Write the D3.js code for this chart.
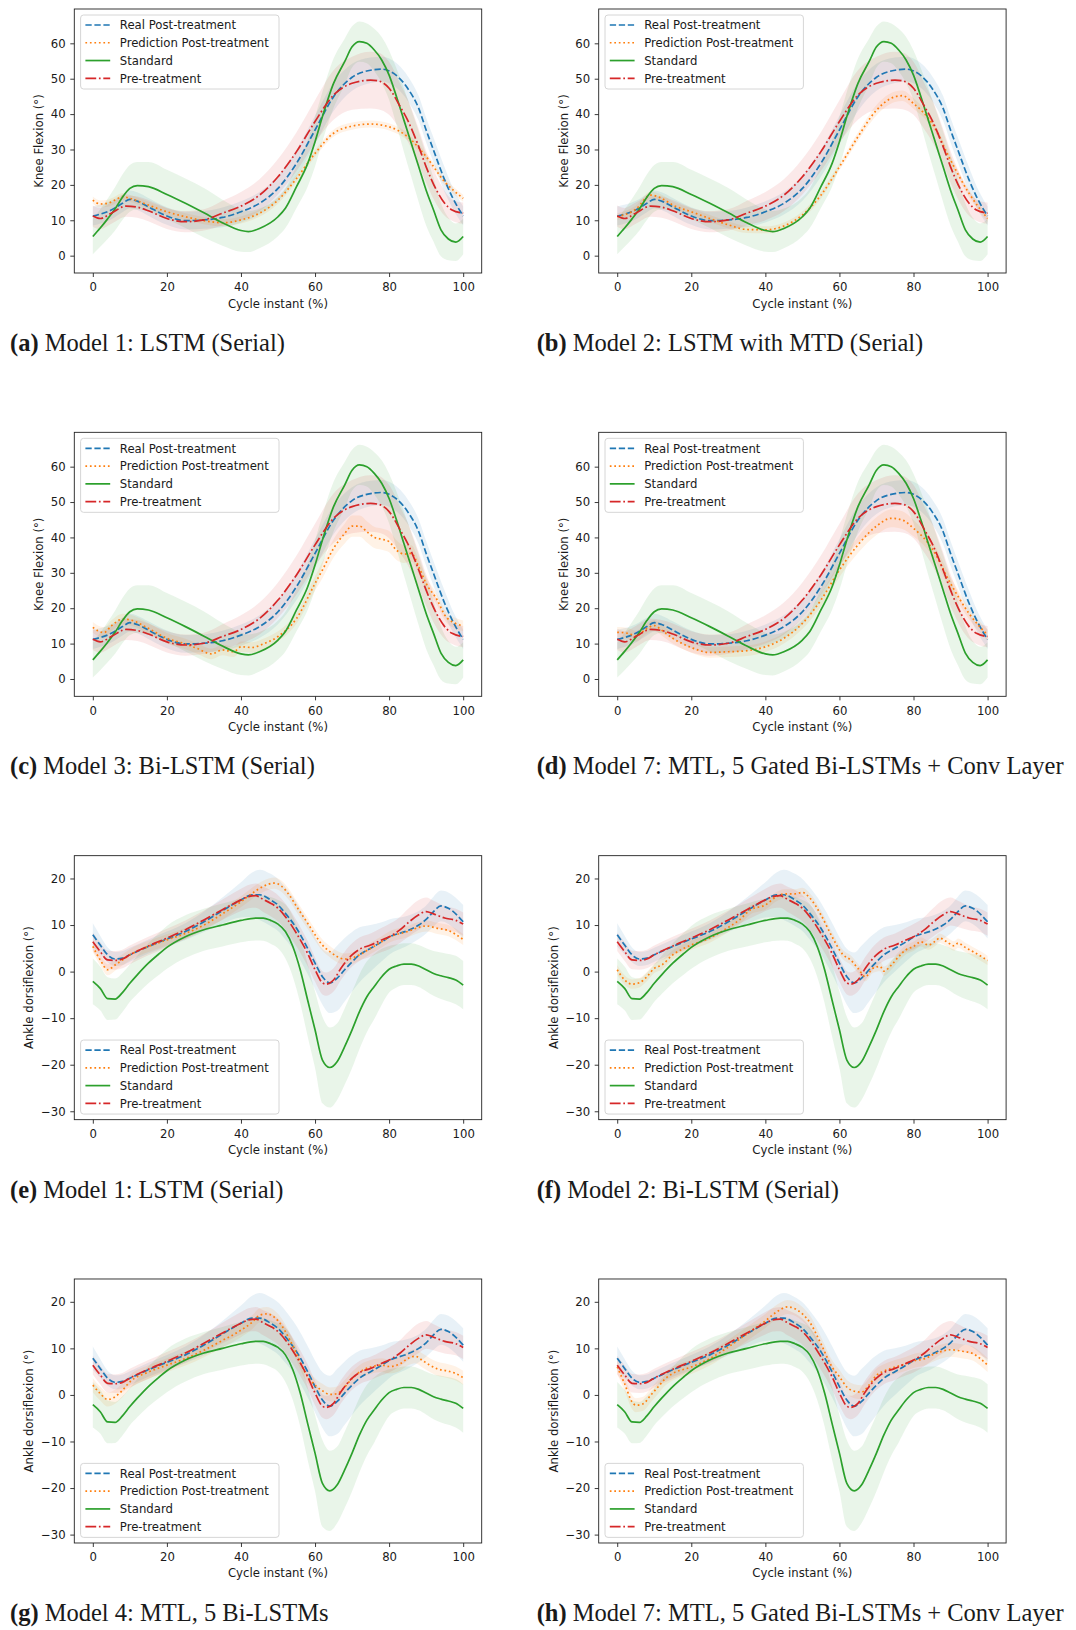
<!DOCTYPE html>
<html>
<head>
<meta charset="utf-8">
<script src="https://cdn.jsdelivr.net/npm/d3@7"></script>
<style>
body { margin: 0; background: #fff; }
text { font-family: "DejaVu Sans", sans-serif; fill: #1a1a1a; }
.cap { font-family: "Liberation Serif", "DejaVu Serif", serif; }
</style>
</head>
<body>
<div id="fig"></div>
<script>
// each row: [cycle %, mean, sd]
var kneeReal = [[0,11.2,2.7],[5,12.9,2.6],[8,14.8,2.5],[10,15.9,2.5],[12,15.4,2.5],[15,13.8,2.5],[20,11.2,2.5],[25,9.9,2.5],[30,10.1,2.5],[35,10.8,2.8],[40,12.4,3],[45,14.8,3.2],[50,19,3.5],[55,26.1,3.8],[60,35.5,4],[65,44.9,4],[70,50.4,3.8],[75,52.4,3.6],[78,52.7,3.5],[80,52.2,3.5],[85,47.3,3.5],[88,41.6,3.5],[90,35.5,3.5],[92,29.8,3.5],[95,21.4,3.5],[97,16.7,3],[100,11.2,2.7]];
var kneeStandard = [[0,5.4,5],[2,7.8,5.3],[4,10.4,5.7],[6,13.2,6.1],[8,16.5,6.4],[10,19,6.6],[12,19.8,6.7],[15,19.5,7],[20,17.3,7],[25,14.8,7],[30,12.1,7],[35,9.3,6.5],[40,7.1,6],[42,6.8,5.8],[45,7.7,5.6],[50,11,5.5],[52,13.4,5.6],[55,19.5,6],[58,26,6.5],[60,32.2,7],[62,39.3,7],[65,48.7,7],[68,54.8,6.5],[70,59,5.8],[72,60.5,5.7],[74,60,5.6],[76,58.1,6],[78,55.3,6.5],[80,51,7],[82,44.9,8],[84,38.3,9],[86,31.7,9.5],[88,25.1,10],[90,18.5,10],[92,12.9,9],[94,7.3,7.5],[96,4.7,6],[98,3.8,5.3],[100,5.4,5]];
var kneePre = [[0,11.2,3],[2,10.5,3],[5,12,3],[9,14,3],[12,13.7,3],[15,12.7,3],[20,10.5,3],[25,9.6,3],[30,10.1,3],[35,12,3.5],[40,14,4],[45,17.1,4.5],[50,22.3,5],[55,29.4,5.5],[60,37.9,6],[65,45.4,7],[70,48.7,7.5],[75,49.6,8],[77,49.4,8],[80,47.3,7.5],[83,42.1,6.5],[85,38.3,6],[88,30.8,5],[90,25.1,4.5],[93,18.1,4],[95,14.8,3.5],[97,12.9,3],[100,12,3]];
var kneePredA = [[0,15.7,1],[2,14.6,1],[4,14.8,1],[6,15.7,1],[8,16.7,1],[10,16.2,1],[15,14.3,1],[20,12.4,1],[25,11,1],[30,9.9,1],[35,9.3,1],[40,10.1,1],[45,12,1],[50,15.7,1],[55,21.8,1],[60,28.9,1],[65,34.6,1],[70,36.6,1],[75,37.2,1],[80,36.4,1],[85,33.6,1],[90,28,1],[95,20.9,1],[100,16.2,1]];
var kneePredB = [[0,11,1],[5,13.1,1],[9,17.1,1],[12,16.2,1],[15,14.3,1],[20,12.4,1],[25,10.5,1],[30,8.7,1],[35,7.4,1],[40,7.3,1],[45,8.4,1],[50,11.5,1],[55,17.1,1],[60,25.1,1],[65,33.6,1.2],[70,41.1,1.5],[75,44.9,1.5],[77,45.2,1.5],[80,43,1.5],[85,37.4,1.2],[90,27,1],[95,17.6,1],[100,10.5,1]];
var kneePredC = [[0,14.6,1.5],[3,13.1,1.5],[5,15,1.5],[8,16.9,1.5],[10,16.7,1.5],[15,14.3,1.5],[20,11.5,1.5],[25,9.9,1.5],[28,8.7,1.5],[32,7.1,1.5],[35,8.2,1.5],[38,7.7,1.5],[40,9.1,1.5],[43,8.9,1.5],[46,9.9,1.5],[50,12,1.5],[55,17.1,1.5],[60,27,2],[62,30.8,2.3],[65,36.9,2.6],[68,41.1,2.8],[70,43.2,3],[72,43.2,3],[74,41.6,3],[76,40,3],[78,39.5,3],[80,38.8,3],[82,36.4,2.8],[84,35.3,2.5],[86,35.5,2.3],[88,31.7,2],[90,27,1.8],[93,22.3,1.5],[95,18.1,1.5],[98,15.7,1.5],[100,15,1.5]];
var kneePredD = [[0,13.2,1.5],[3,12.9,1.5],[5,12.1,1.5],[8,14.3,1.5],[10,15.1,1.5],[12,13.8,1.5],[15,11.5,1.5],[20,8.9,1.5],[25,7.5,1.5],[30,7.7,1.5],[35,8,1.5],[40,9.1,1.5],[45,11.5,1.5],[50,15.7,1.6],[55,22.3,1.8],[60,30.8,2],[65,37.9,2.3],[70,43.2,2.5],[74,45.4,2.5],[77,44.9,2.5],[80,42.6,2.3],[85,36.9,2],[90,27,1.8],[95,18.5,1.6],[100,12.4,1.5]];

var ankleReal = [[0,7.9,2.5],[2,5.7,2],[4,3.6,1.6],[6,2.7,1.5],[8,2.9,1.5],[10,3.6,1.5],[15,5.4,1.5],[20,7,1.6],[25,8.6,1.8],[30,10.7,2.2],[35,13.1,2.8],[40,15.4,3.8],[43,16.5,4.8],[45,16.5,5.4],[48,15.4,5.6],[50,14.3,5.6],[52,12.5,5.6],[55,9.3,5.5],[58,5,5.5],[60,1.8,5.6],[62,-1.1,6],[64,-2.4,6.5],[66,-1.4,7],[68,0.4,6.8],[70,2.1,6.4],[72,3.6,5.9],[75,5,5],[78,6.4,4.2],[80,7.4,3.8],[85,8.8,3.2],[88,10,3],[90,11.2,3],[92,12.9,3.2],[94,14.1,3.3],[96,13.6,3.4],[100,10.7,3.6]];
var ankleStandard = [[0,-2.1,4.9],[2,-3.6,4.7],[4,-5.8,4.6],[6,-5.9,4.4],[8,-4.5,4.2],[10,-2.5,4],[12,-0.7,4.1],[15,1.8,4.3],[18,3.9,4.5],[20,5.2,4.6],[25,7.5,4.6],[30,9,4.5],[35,10,4.6],[40,11,4.7],[44,11.5,4.8],[46,11.5,4.9],[48,11,5],[50,10.2,5.2],[52,8.6,5.8],[54,5.4,6.5],[56,0.4,7.2],[58,-6.1,7.8],[60,-12.5,8.2],[62,-19,9.3],[64,-20.6,8.6],[66,-19.3,8.2],[68,-16.1,8.2],[70,-12.5,8.2],[72,-8.6,8],[74,-5.4,7.6],[76,-3.2,7],[78,-1.1,6],[80,0.5,5],[82,1.2,4.6],[84,1.6,4.5],[86,1.6,4.5],[88,1.2,4.5],[90,0.4,4.6],[92,-0.4,4.8],[94,-0.9,5],[96,-1.3,5.1],[98,-1.8,5.2],[100,-2.9,5.2]];
var anklePre = [[0,6.4,2],[2,4.3,2],[4,2.5,2],[6,2.4,2],[8,2.7,2],[10,3.6,2],[15,5.5,2],[20,7.2,2],[25,9,2],[30,11.1,2],[35,13.3,2.2],[40,15.4,2.4],[42,16.1,2.5],[44,16.3,2.6],[46,15.5,2.7],[48,14.7,2.8],[50,13.6,2.8],[52,11.8,2.8],[55,8.2,2.8],[58,3.9,2.7],[60,0.4,2.6],[62,-2.4,2.5],[63,-2.7,2.5],[65,-1.8,2.5],[67,0.7,2.5],[70,3.6,2.5],[72,4.8,2.5],[75,5.7,2.5],[78,6.8,2.6],[80,7.5,2.7],[83,9,2.8],[85,10.4,3],[88,12.2,3.2],[90,12.9,3],[92,12.4,2.8],[95,11.5,2.6],[98,11,2.5],[100,10.2,2.5]];
var anklePredE = [[0,5.4,1.2],[2,2.5,1.2],[4,0.4,1.2],[6,1.4,1.2],[8,2.5,1.2],[10,3.6,1.2],[15,5.4,1.2],[20,6.8,1.2],[25,8.2,1.2],[30,10,1.2],[35,12.4,1.2],[40,15,1.2],[43,16.8,1.2],[46,18.3,1.2],[49,19,1.2],[51,18.3,1.2],[53,16.5,1.2],[55,14,1.2],[58,10.4,1.2],[60,7.9,1.2],[62,5.7,1.2],[64,4.3,1.2],[66,3.2,1.2],[68,2.7,1.2],[70,2.9,1.2],[72,3.6,1.2],[75,5,1.2],[78,6.4,1.2],[80,7.4,1.2],[85,8.6,1.2],[88,9.5,1.2],[90,9.8,1.2],[93,9.3,1.2],[96,8.8,1.2],[100,6.9,1.2]];
var anklePredF = [[0,0.4,1],[2,-1.8,1],[4,-2.7,1],[6,-2.4,1],[8,-1.1,1],[10,0.7,1],[12,1.4,1],[15,3.6,1],[18,5,1],[20,5.7,1],[25,7.2,1],[30,9.5,1],[33,11.1,1],[36,13.3,1],[40,14.3,1],[43,16.1,1],[45,16.7,1],[48,16.7,1],[50,17,1],[52,15.8,1],[55,12.2,1],[58,7.5,1],[61,3.6,1],[63,2.5,1],[65,0.7,1],[67,-1.1,1],[69,0.7,1],[71,1.1,1],[72,0.1,1],[74,1.4,1],[76,3.2,1],[78,4.7,1],[80,5.4,1],[82,6.4,1],[84,5.7,1],[86,6.6,1],[87,7.2,1],[89,6.4,1],[91,5.5,1],[92,6.1,1],[94,5.2,1],[96,4.3,1],[98,3.4,1],[100,2.4,1]];
var anklePredG = [[0,2.1,1.5],[2,0.3,1.5],[4,-1,1.5],[6,-0.4,1.5],[8,1,1.5],[10,2.8,1.5],[15,4.9,1.5],[20,6.4,1.5],[25,7.8,1.5],[30,9.6,1.5],[35,11.7,1.5],[40,13.9,1.5],[43,15.6,1.5],[45,17.1,1.5],[47,17.4,1.5],[49,16.7,1.5],[51,14.9,1.5],[53,12.1,1.5],[55,8.9,1.5],[57,5.3,1.5],[60,2.1,1.5],[62,0.9,1.5],[64,0.1,1.5],[66,0.3,1.5],[68,1.7,1.5],[70,3.5,1.5],[72,4.9,1.5],[75,6,1.5],[78,6.4,1.5],[80,6.1,1.5],[83,6.7,1.5],[85,7.8,1.5],[87,8.3,1.5],[89,7.4,1.5],[91,6.4,1.5],[93,5.6,1.5],[96,5.1,1.5],[98,4.6,1.5],[100,3.7,1.5]];
var anklePredH = [[0,6,1.5],[2,2.4,1.5],[4,-1.5,1.5],[5,-2.2,1.5],[7,-1.9,1.5],[9,-0.1,1.5],[11,1.7,1.5],[13,3.5,1.5],[15,4.6,1.5],[20,6,1.5],[25,7.8,1.5],[30,10.3,1.5],[35,13.1,1.5],[40,15.9,1.5],[43,17.8,1.5],[46,18.9,1.5],[48,18.5,1.5],[50,17.4,1.5],[52,15.6,1.5],[55,11,1.5],[58,6,1.5],[60,3.9,1.5],[62,1.7,1.5],[64,0.8,1.5],[66,0.6,1.5],[68,2.1,1.5],[70,4.2,1.5],[72,5.1,1.5],[75,6,1.5],[78,6.7,1.5],[80,7.3,1.5],[83,7.8,1.5],[86,8.9,1.5],[90,9.7,1.5],[93,9.4,1.5],[96,8.9,1.5],[98,7.8,1.5],[100,6.4,1.5]];

var seriesNames = ['Real Post-treatment', 'Prediction Post-treatment', 'Standard', 'Pre-treatment'];
var seriesColors = ['#1f77b4', '#ff7f0e', '#2ca02c', '#d62728'];
var seriesDash = ['6.3,2.7', '1.7,2.8', null, '10.8,2.7,1.7,2.7'];

var xTicks = [0, 20, 40, 60, 80, 100];
var kneeTicks = [0, 10, 20, 30, 40, 50, 60];
var ankleTicks = [-30, -20, -10, 0, 10, 20];

var panelLetters = ['a', 'b', 'c', 'd', 'e', 'f', 'g', 'h'];
var panelTitles = ['Model 1: LSTM (Serial)', 'Model 2: LSTM with MTD (Serial)', 'Model 3: Bi-LSTM (Serial)',
    'Model 7: MTL, 5 Gated Bi-LSTMs + Conv Layer', 'Model 1: LSTM (Serial)', 'Model 2: Bi-LSTM (Serial)',
    'Model 4: MTL, 5 Bi-LSTMs', 'Model 7: MTL, 5 Gated Bi-LSTMs + Conv Layer'];
var panelPreds = [kneePredA, kneePredB, kneePredC, kneePredD, anklePredE, anklePredF, anklePredG, anklePredH];

var W = 1076, H = 1630;
var aw = 407.4, ah = 264;
var rowStep = 423.33;
var fs = '11.7px';

var svg = d3.select('#fig').append('svg')
    .attr('width', W).attr('height', H)
    .attr('viewBox', '0 0 ' + W + ' ' + H);

panelLetters.forEach(function(letter, i) {
    var col = i % 2, row = Math.floor(i / 2);
    var knee = i < 4;
    var left = col ? 598.7 : 74.3, top = 9 + row * rowStep;
    var g = svg.append('g').attr('transform', 'translate(' + left + ',' + top + ')');

    var x = d3.scaleLinear().domain([-5, 105]).range([0, aw]);
    var y = d3.scaleLinear().domain(knee ? [-4.9, 69.7] : [-31.8, 24.9]).range([ah, 0]);

    var data = knee ? [kneeReal, panelPreds[i], kneeStandard, kneePre]
                    : [ankleReal, panelPreds[i], ankleStandard, anklePre];

    var clipId = 'clip' + i;
    g.append('clipPath').attr('id', clipId)
        .append('rect').attr('width', aw).attr('height', ah);
    var plot = g.append('g').attr('clip-path', 'url(#' + clipId + ')');

    var area = d3.area()
        .x(function(d) { return x(d[0]); })
        .y0(function(d) { return y(d[1] - d[2]); })
        .y1(function(d) { return y(d[1] + d[2]); })
        .curve(d3.curveMonotoneX);
    var line = d3.line()
        .x(function(d) { return x(d[0]); })
        .y(function(d) { return y(d[1]); })
        .curve(d3.curveMonotoneX);

    data.forEach(function(s, k) {
        plot.append('path').attr('d', area(s))
            .attr('fill', seriesColors[k]).attr('fill-opacity', 0.1);
    });
    data.forEach(function(s, k) {
        plot.append('path').attr('d', line(s))
            .attr('fill', 'none')
            .attr('stroke', seriesColors[k])
            .attr('stroke-width', 1.7)
            .attr('stroke-dasharray', seriesDash[k]);
    });

    // axes
    var xAxis = g.append('g').attr('transform', 'translate(0,' + ah + ')')
        .call(d3.axisBottom(x).tickValues(xTicks).tickSize(4).tickPadding(6));
    var yAxis = g.append('g')
        .call(d3.axisLeft(y).tickValues(knee ? kneeTicks : ankleTicks).tickSize(4).tickPadding(4.6));
    [xAxis, yAxis].forEach(function(a) {
        a.select('.domain').remove();
        a.selectAll('line').attr('stroke', '#222').attr('stroke-width', 0.9);
        a.selectAll('text').style('font-size', fs).attr('fill', '#1a1a1a')
            .style('font-family', '"DejaVu Sans", sans-serif');
    });
    g.append('rect').attr('width', aw).attr('height', ah)
        .attr('fill', 'none').attr('stroke', '#222').attr('stroke-width', 0.9);

    g.append('text').attr('x', aw / 2).attr('y', ah + 34.5)
        .attr('text-anchor', 'middle').style('font-size', fs)
        .text('Cycle instant (%)');
    g.append('text')
        .attr('transform', 'translate(' + (knee ? -35.3 : -45) + ',' + (ah / 2) + ') rotate(-90)')
        .attr('text-anchor', 'middle').attr('dy', '0.35em').style('font-size', fs)
        .text(knee ? 'Knee Flexion (°)' : 'Ankle dorsiflexion (°)');

    // legend
    var lh = 74, lw = 198.4;
    var ly = knee ? 6 : ah - 5.6 - lh;
    var lg = g.append('g').attr('transform', 'translate(6.3,' + ly + ')');
    lg.append('rect').attr('width', lw).attr('height', lh).attr('rx', 3)
        .attr('fill', '#fff').attr('fill-opacity', 0.8)
        .attr('stroke', '#d6d6d6').attr('stroke-width', 1);
    seriesNames.forEach(function(name, k) {
        var yy = 10 + k * 17.77;
        lg.append('line').attr('x1', 4.8).attr('x2', 29.6).attr('y1', yy).attr('y2', yy)
            .attr('stroke', seriesColors[k]).attr('stroke-width', 1.7)
            .attr('stroke-dasharray', seriesDash[k]);
        lg.append('text').attr('x', 39.2).attr('y', yy).attr('dy', '0.36em')
            .style('font-size', fs).text(name);
    });

    // caption
    var cap = svg.append('text').attr('class', 'cap')
        .attr('x', col ? 536.7 : 10).attr('y', top + 342)
        .style('font-size', '24.5px');
    cap.append('tspan').style('font-weight', 'bold').text('(' + letter + ')');
    cap.append('tspan').text(' ' + panelTitles[i]);
});
</script>
</body>
</html>
